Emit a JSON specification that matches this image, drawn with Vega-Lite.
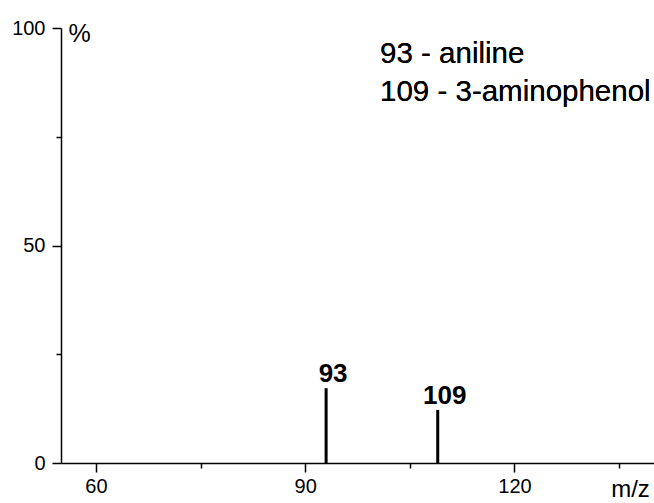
{
  "$schema": "https://vega.github.io/schema/vega-lite/v6.json",
  "width": 593,
  "height": 435,
  "autosize": {"type": "none"},
  "padding": {"left": 61, "top": 28, "right": 0, "bottom": 40},
  "background": "white",
  "config": {
    "view": {"stroke": null},
    "font": "Liberation Sans",
    "axis": {
      "domainColor": "black",
      "domainWidth": 1.5,
      "tickColor": "black",
      "tickWidth": 1.5,
      "labelColor": "black",
      "titleColor": "black",
      "grid": false,
      "labelFont": "Liberation Sans",
      "titleFont": "Liberation Sans",
      "titleFontWeight": "normal"
    }
  },
  "data": {
    "values": [
      {"mz": 93, "intensity": 17.2},
      {"mz": 109, "intensity": 12.2}
    ]
  },
  "layer": [
    {
      "mark": {"type": "rule", "color": "black", "strokeWidth": 3},
      "encoding": {
        "x": {
          "field": "mz",
          "type": "quantitative",
          "scale": {"domain": [55, 140], "nice": false, "zero": false},
          "axis": {
            "title": "m/z",
            "titleFontSize": 24,
            "titleX": 569,
            "titleY": 33,
            "titleAlign": "center",
            "titleBaseline": "alphabetic",
            "values": [60, 75, 90, 105, 120, 135],
            "labelExpr": "datum.value % 30 === 0 ? datum.label : ''",
            "tickSize": {"condition": {"test": "datum.value % 30 === 0", "value": 9}, "value": 5},
            "labelFontSize": 20,
            "labelPadding": 4,
            "labelFlush": false,
            "labelOverlap": false
          }
        },
        "y": {
          "field": "intensity",
          "type": "quantitative",
          "scale": {"domain": [0, 100], "nice": false},
          "axis": {
            "title": "%",
            "titleAngle": 0,
            "titleFontSize": 25,
            "titleX": 18,
            "titleY": 5,
            "titleAlign": "center",
            "titleBaseline": "middle",
            "values": [0, 25, 50, 75, 100],
            "labelExpr": "datum.value % 50 === 0 ? datum.label : ''",
            "tickSize": {"condition": {"test": "datum.value % 50 === 0", "value": 9}, "value": 5},
            "labelFontSize": 20,
            "labelPadding": 7,
            "labelFlush": false,
            "labelOverlap": false
          }
        },
        "y2": {"datum": 0}
      }
    },
    {
      "mark": {"type": "text", "fontSize": 26, "fontWeight": "bold", "color": "black", "baseline": "alphabetic", "align": "center", "dx": 7, "dy": -6},
      "encoding": {
        "x": {"field": "mz", "type": "quantitative"},
        "y": {"field": "intensity", "type": "quantitative"},
        "text": {"field": "mz", "type": "quantitative"}
      }
    },
    {
      "mark": {"type": "text", "fontSize": 29.5, "color": "black", "align": "left", "baseline": "middle"},
      "encoding": {
        "x": {"datum": 100.73},
        "y": {"datum": 94.0},
        "text": {"value": "93 - aniline"}
      }
    },
    {
      "mark": {"type": "text", "fontSize": 29.5, "color": "black", "align": "left", "baseline": "middle"},
      "encoding": {
        "x": {"datum": 100.73},
        "y": {"datum": 85.3},
        "text": {"value": "109 - 3-aminophenol"}
      }
    }
  ]
}
